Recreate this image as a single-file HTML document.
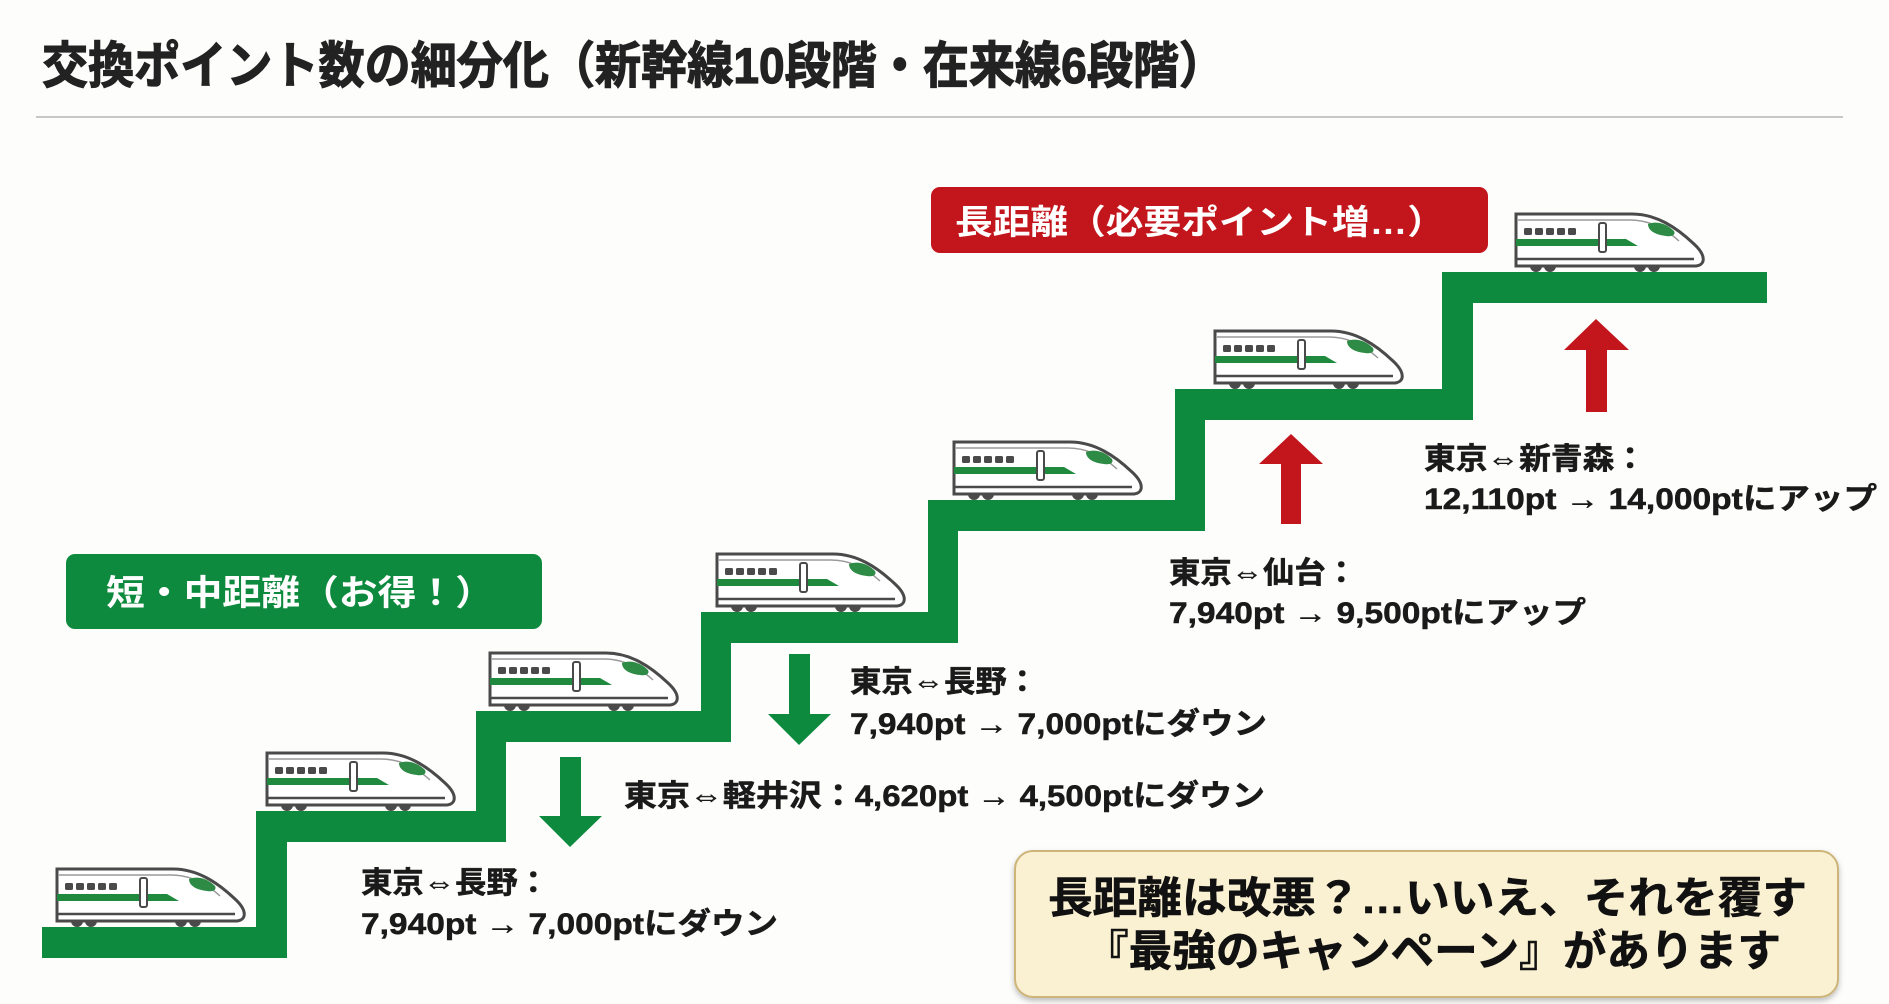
<!DOCTYPE html>
<html><head><meta charset="utf-8"><style>
html,body{margin:0;padding:0;background:#fdfdfc;}
svg{display:block;}
text{font-family:"Liberation Sans","Noto Sans CJK JP",sans-serif;font-weight:bold;}
</style></head><body>
<svg width="1889" height="1004" viewBox="0 0 1889 1004" xmlns="http://www.w3.org/2000/svg">
<defs>
<g id="tr">
  <path d="M0,3 H116 C140,3 160,16 178,33 C191,45 189,54 180,55 H0 Z" fill="#fff" stroke="#4a4a4a" stroke-width="3"/>
  <path d="M2,9 H114 C134,9 150,18 163,30" fill="none" stroke="#9a9a9a" stroke-width="1.5"/>
  <path d="M132,13 C140,10 150,12 158,20 C160,24 156,26 150,25 C140,24 132,20 132,13 Z" fill="#2e8b45"/>
  <rect x="8" y="17" width="8" height="7" rx="1.5" fill="#4a4a4a"/>
  <rect x="19" y="17" width="8" height="7" rx="1.5" fill="#4a4a4a"/>
  <rect x="30" y="17" width="8" height="7" rx="1.5" fill="#4a4a4a"/>
  <rect x="41" y="17" width="8" height="7" rx="1.5" fill="#4a4a4a"/>
  <rect x="52" y="17" width="8" height="7" rx="1.5" fill="#4a4a4a"/>
  <path d="M0,28 H110 L122,35 H0 Z" fill="#1f8a3e"/>
  <rect x="83" y="12" width="7" height="29" rx="2" fill="#fff" stroke="#4a4a4a" stroke-width="2"/>
  <line x1="0" y1="48" x2="178" y2="48" stroke="#4a4a4a" stroke-width="2.5"/>
  <path d="M14,55 a6,6 0 0 0 12,0 Z M28,55 a6,6 0 0 0 12,0 Z M118,55 a6,6 0 0 0 12,0 Z M132,55 a6,6 0 0 0 12,0 Z" fill="#4a4a4a"/>
</g>
<filter id="sh" x="-5%" y="-10%" width="110%" height="130%"><feDropShadow dx="0" dy="3" stdDeviation="3" flood-color="#000" flood-opacity="0.25"/></filter>
</defs>

<text x="42" y="83" font-size="50" fill="#222" stroke="#222" stroke-width="1.2" textLength="1183" lengthAdjust="spacingAndGlyphs">交換ポイント数の細分化（新幹線10段階・在来線6段階）</text>
<line x1="36" y1="117" x2="1843" y2="117" stroke="#c8c8c8" stroke-width="2"/>

<g fill="#0e8a3e">
  <rect x="42" y="927" width="245" height="31"/>
  <rect x="256" y="811" width="31" height="147"/>
  <rect x="256" y="811" width="250" height="31"/>
  <rect x="476" y="711" width="30" height="131"/>
  <rect x="476" y="711" width="255" height="31"/>
  <rect x="701" y="612" width="30" height="130"/>
  <rect x="701" y="612" width="257" height="31"/>
  <rect x="928" y="500" width="30" height="143"/>
  <rect x="928" y="500" width="277" height="31"/>
  <rect x="1175" y="389" width="30" height="142"/>
  <rect x="1175" y="389" width="298" height="31"/>
  <rect x="1442" y="272" width="31" height="148"/>
  <rect x="1442" y="272" width="325" height="31"/>
</g>

<use href="#tr" transform="translate(57,866)"/>
<use href="#tr" transform="translate(267,750)"/>
<use href="#tr" transform="translate(490,650)"/>
<use href="#tr" transform="translate(717,551)"/>
<use href="#tr" transform="translate(954,439)"/>
<use href="#tr" transform="translate(1215,328)"/>
<use href="#tr" transform="translate(1516,211)"/>

<rect x="931" y="187" width="557" height="66" rx="9" fill="#c3161c"/>
<text x="955" y="234" font-size="34" fill="#fff" textLength="490" lengthAdjust="spacingAndGlyphs">長距離（必要ポイント増…）</text>

<rect x="66" y="554" width="476" height="75" rx="9" fill="#0e8a3e"/>
<text x="106" y="605" font-size="35" fill="#fff" textLength="388" lengthAdjust="spacingAndGlyphs">短・中距離（お得！）</text>

<path d="M1281,524 V464 H1259 L1291,434 L1323,464 H1301 V524 Z" fill="#c3161c"/>
<path d="M1586,412 V350 H1564 L1596,319 L1629,350 H1607 V412 Z" fill="#c3161c"/>
<path d="M789,654 V714 H768 L799,745 L831,714 H810 V654 Z" fill="#0e8a3e"/>
<path d="M560,757 V816 H539 L570,847 L602,816 H581 V757 Z" fill="#0e8a3e"/>

<g font-size="30" fill="#1a1a1a" stroke="#1a1a1a" stroke-width="0.5">
  <text x="361" y="893" textLength="188" lengthAdjust="spacingAndGlyphs">東京⇔長野：</text>
  <text x="361" y="934" textLength="417" lengthAdjust="spacingAndGlyphs">7,940pt → 7,000ptにダウン</text>
  <text x="624" y="806" textLength="641" lengthAdjust="spacingAndGlyphs">東京⇔軽井沢：4,620pt → 4,500ptにダウン</text>
  <text x="850" y="692" textLength="188" lengthAdjust="spacingAndGlyphs">東京⇔長野：</text>
  <text x="850" y="734" textLength="417" lengthAdjust="spacingAndGlyphs">7,940pt → 7,000ptにダウン</text>
  <text x="1169" y="583" textLength="188" lengthAdjust="spacingAndGlyphs">東京⇔仙台：</text>
  <text x="1169" y="623" textLength="417" lengthAdjust="spacingAndGlyphs">7,940pt → 9,500ptにアップ</text>
  <text x="1424" y="469" textLength="222" lengthAdjust="spacingAndGlyphs">東京⇔新青森：</text>
  <text x="1424" y="509" textLength="453" lengthAdjust="spacingAndGlyphs">12,110pt → 14,000ptにアップ</text>
</g>

<rect x="1015" y="851" width="823" height="146" rx="18" fill="#faf0d2" stroke="#cdb57a" stroke-width="2" filter="url(#sh)"/>
<text x="1048" y="913" font-size="43" fill="#111" stroke="#111" stroke-width="0.6" textLength="759" lengthAdjust="spacingAndGlyphs">長距離は改悪？…いいえ、それを覆す</text>
<text x="1085" y="966" font-size="43" fill="#111" stroke="#111" stroke-width="0.6" textLength="696" lengthAdjust="spacingAndGlyphs">『最強のキャンペーン』があります</text>
</svg>
</body></html>
